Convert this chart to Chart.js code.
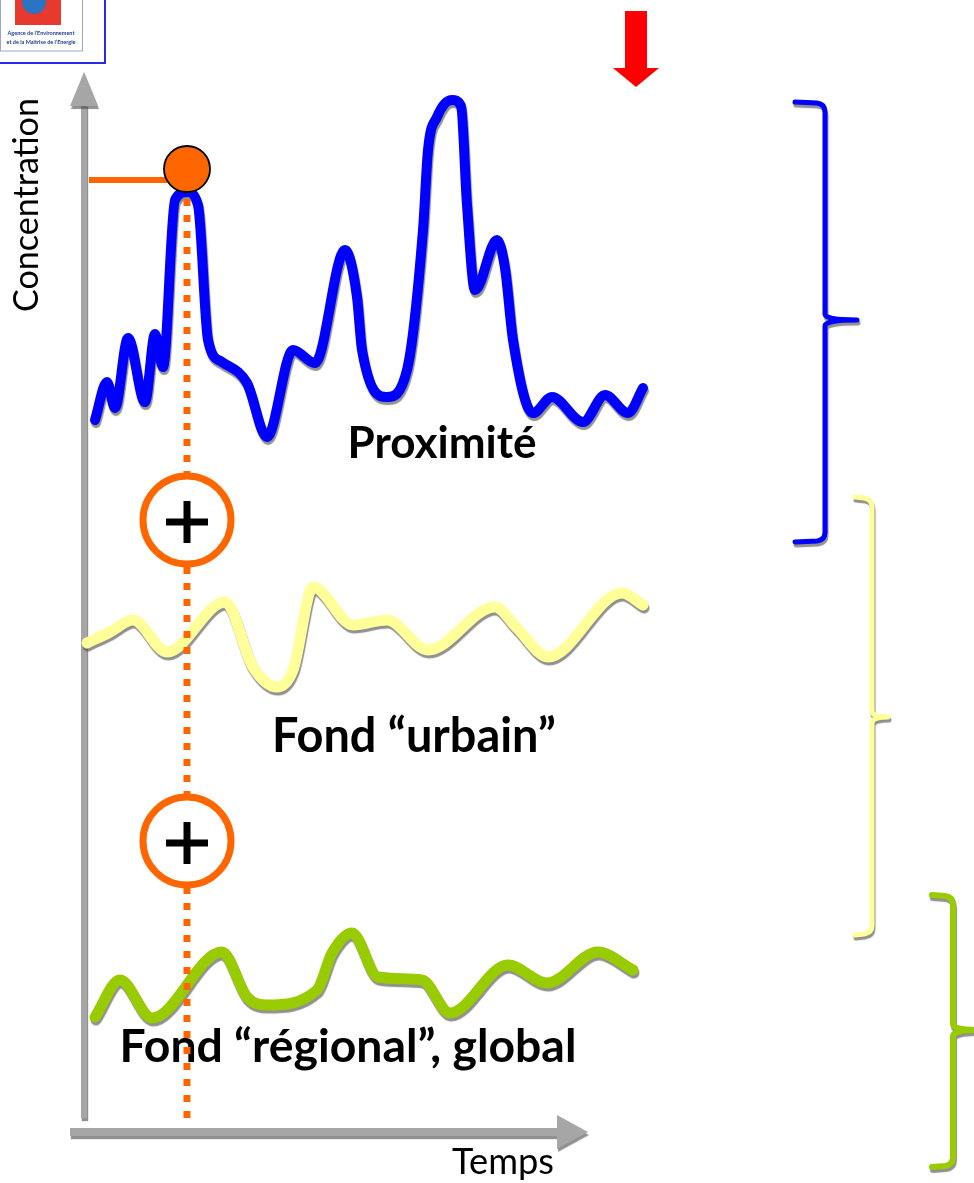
<!DOCTYPE html>
<html lang="fr">
<head>
<meta charset="utf-8">
<title>Concentration / Temps</title>
<script src="https://cdn.jsdelivr.net/npm/chart.js@4.4.1/dist/chart.umd.min.js"></script>
<style>
  html, body { margin: 0; padding: 0; background: #fff; }
  #wrap { position: relative; width: 974px; height: 1183px; }
</style>
</head>
<body>
<div id="wrap"><canvas id="chart"></canvas></div>
<script>
// time (0 = origin of the axes) and concentration of each component
const proxTime = [11, 23, 31, 44, 61, 71, 79, 91, 103, 114, 124, 138, 163, 183, 209, 231, 261, 273, 278, 303, 323, 339, 344, 353, 368, 377, 383, 391, 413, 421, 429, 449, 468, 499, 521, 544, 559];
const proxConc = [712, 750, 724, 794, 730, 798, 765, 932, 940, 927, 792, 770, 749, 695, 782, 769, 882, 835, 782, 735, 762, 902, 982, 1015, 1032, 1026, 927, 842, 892, 864, 792, 719, 735, 710, 737, 719, 744];

const urbTime = [3, 26, 49, 83, 141, 169, 193, 209, 229, 269, 303, 344, 411, 433, 464, 538, 559];
const urbConc = [489, 500, 512, 480, 530, 465, 445, 462, 545, 507, 512, 482, 525, 504, 475, 539, 527];

const regTime = [11, 36, 68, 138, 163, 183, 233, 248, 268, 294, 338, 366, 424, 463, 514, 549];
const regConc = [115, 152, 114, 180, 135, 127, 142, 179, 199, 155, 152, 119, 167, 149, 180, 162];

const readTime = 103; // instant where the three contributions are summed
const seriesLabels = ["Proximité", "Fond “urbain”", "Fond “régional”, global"];
const axisLabels = ["Temps", "Concentration"];

const FAMILY = "Lato, 'Open Sans', sans-serif";
const ORANGE = "#ff6600";

function pts(t, c) {
  return t.map((v, i) => ({ x: v, y: c[i] }));
}

function setShadow(ctx) {
  ctx.shadowColor = "rgba(70,70,70,0.6)";
  ctx.shadowOffsetX = 1;
  ctx.shadowOffsetY = 3;
  ctx.shadowBlur = 1;
}

// font size giving the wanted text width
function fitSize(ctx, text, weight, width) {
  ctx.font = `${weight} 100px ${FAMILY}`;
  return 100 * width / ctx.measureText(text).width;
}

function label(ctx, text, cx, base, width, weight) {
  const size = fitSize(ctx, text, weight, width);
  ctx.font = `${weight} ${size}px ${FAMILY}`;
  ctx.fillStyle = "#000";
  ctx.textAlign = "center";
  ctx.textBaseline = "alphabetic";
  ctx.fillText(text, cx, base);
}

function brace(ctx, b) {
  ctx.save();
  setShadow(ctx);
  ctx.strokeStyle = b.color;
  ctx.lineWidth = b.w;
  ctx.lineCap = "round";
  ctx.lineJoin = "round";
  ctx.beginPath();
  ctx.moveTo(b.xl, b.yt);
  ctx.lineTo(b.xv - 8, b.yt + 1);
  ctx.quadraticCurveTo(b.xv, b.yt + 2, b.xv, b.yt + 10);
  ctx.lineTo(b.xv, b.ym - 6);
  ctx.quadraticCurveTo(b.xv, b.ym, b.xt, b.ym);
  ctx.quadraticCurveTo(b.xv, b.ym, b.xv, b.ym + 6);
  ctx.lineTo(b.xv, b.yb - 10);
  ctx.quadraticCurveTo(b.xv, b.yb - 2, b.xv - 8, b.yb - 1);
  ctx.lineTo(b.xl, b.yb);
  ctx.stroke();
  ctx.restore();
}

function plusCircle(ctx, cx, cy) {
  ctx.save();
  ctx.beginPath();
  ctx.arc(cx, cy, 44, 0, Math.PI * 2);
  ctx.fillStyle = "#fff";
  ctx.fill();
  ctx.lineWidth = 7;
  ctx.strokeStyle = ORANGE;
  ctx.stroke();
  ctx.fillStyle = "#000";
  ctx.fillRect(cx - 21, cy + 2 - 3.5, 42, 7);
  ctx.fillRect(cx - 3.5, cy + 2 - 21, 7, 42);
  ctx.restore();
}

function logo(ctx) {
  ctx.save();
  ctx.strokeStyle = "#2a2ae6";
  ctx.lineWidth = 2;
  ctx.strokeRect(-2, -2, 107, 65);
  ctx.strokeStyle = "#9aa6cc";
  ctx.lineWidth = 1;
  ctx.strokeRect(0.5, -2, 82, 53);
  ctx.fillStyle = "#e8392e";
  ctx.fillRect(15, 0, 46, 25);
  ctx.fillStyle = "#2d73c4";
  ctx.beginPath();
  ctx.arc(34, 2, 12, 0, Math.PI * 2);
  ctx.fill();
  ctx.fillStyle = "#24408f";
  ctx.font = `bold 5.5px ${FAMILY}`;
  ctx.textAlign = "center";
  ctx.fillText("Agence de l’Environnement", 41, 35);
  ctx.fillText("et de la Maîtrise de l’Energie", 41, 44);
  ctx.restore();
}

const shadowPlugin = {
  id: "curveShadow",
  beforeDatasetDraw(chart) {
    chart.ctx.save();
    setShadow(chart.ctx);
  },
  afterDatasetDraw(chart) {
    chart.ctx.restore();
  }
};

const sketchPlugin = {
  id: "sketch",
  beforeDatasetsDraw(chart) {
    const { ctx, scales: { x, y } } = chart;
    const x0 = x.getPixelForValue(0);
    const y0 = y.getPixelForValue(0);
    ctx.save();
    setShadow(ctx);
    ctx.fillStyle = "#a6a6a6";
    // concentration axis
    ctx.fillRect(x0 - 3, 104, 6, y0 - 14 - 104);
    ctx.beginPath();
    ctx.moveTo(x0 - 14, 106);
    ctx.lineTo(x0, 72);
    ctx.lineTo(x0 + 14, 106);
    ctx.closePath();
    ctx.fill();
    // time axis
    ctx.fillRect(x0 - 14, y0 - 4, 560 - x0 + 14, 8);
    ctx.beginPath();
    ctx.moveTo(557, y0 - 17);
    ctx.lineTo(588, y0);
    ctx.lineTo(557, y0 + 17);
    ctx.closePath();
    ctx.fill();
    ctx.restore();
  },
  afterDatasetsDraw(chart) {
    const { ctx, scales: { x, y } } = chart;
    const xr = x.getPixelForValue(readTime);
    const peak = proxConc[proxTime.indexOf(readTime)];
    const yp = y.getPixelForValue(peak);
    const y0 = y.getPixelForValue(0);

    ctx.save();
    label(ctx, seriesLabels[0], 442, 458, 189, "bold");
    label(ctx, seriesLabels[1], 414, 752, 284, "bold");
    label(ctx, seriesLabels[2], 348, 1062, 457, "bold");
    label(ctx, axisLabels[0], 503, 1174, 102, "normal");
    ctx.save();
    ctx.translate(38, 205);
    ctx.rotate(-Math.PI / 2);
    label(ctx, axisLabels[1], 0, 0, 214, "normal");
    ctx.restore();

    // dotted reading line
    ctx.strokeStyle = ORANGE;
    ctx.lineWidth = 7;
    ctx.setLineDash([7, 9]);
    ctx.beginPath();
    ctx.moveTo(xr, yp + 7);
    ctx.lineTo(xr, y0 - 14);
    ctx.stroke();
    ctx.setLineDash([]);

    plusCircle(ctx, xr, 520);
    plusCircle(ctx, xr, 841);

    // read value
    ctx.lineWidth = 6;
    ctx.beginPath();
    ctx.moveTo(x.getPixelForValue(0) + 5, yp - 12);
    ctx.lineTo(xr - 20, yp - 12);
    ctx.stroke();
    ctx.beginPath();
    ctx.arc(xr, yp - 23, 23, 0, Math.PI * 2);
    ctx.fillStyle = ORANGE;
    ctx.fill();
    ctx.lineWidth = 1.8;
    ctx.strokeStyle = "#000";
    ctx.stroke();

    brace(ctx, { xl: 795, xv: 825, xt: 857, yt: 102, ym: 320, yb: 542, color: "#0000ff", w: 5 });
    brace(ctx, { xl: 855, xv: 872, xt: 888, yt: 497, ym: 717, yb: 935, color: "#ffff99", w: 5 });
    brace(ctx, { xl: 932, xv: 953, xt: 978, yt: 895, ym: 1030, yb: 1167, color: "#99cc00", w: 6 });

    // red arrow
    ctx.fillStyle = "#ff0000";
    ctx.fillRect(625, 11, 22, 58);
    ctx.beginPath();
    ctx.moveTo(613, 68);
    ctx.lineTo(659, 68);
    ctx.lineTo(636, 87);
    ctx.closePath();
    ctx.fill();

    logo(ctx);
    ctx.restore();
  }
};

new Chart(document.getElementById("chart"), {
  type: "line",
  data: {
    datasets: [
      { label: seriesLabels[0], data: pts(proxTime, proxConc), borderColor: "#0000ff", borderWidth: 10 },
      { label: seriesLabels[1], data: pts(urbTime, urbConc), borderColor: "#ffff99", borderWidth: 11 },
      { label: seriesLabels[2], data: pts(regTime, regConc), borderColor: "#99cc00", borderWidth: 11 }
    ]
  },
  options: {
    responsive: true,
    maintainAspectRatio: false,
    animation: false,
    layout: { padding: 0 },
    elements: {
      point: { radius: 0 },
      line: { cubicInterpolationMode: "monotone", borderCapStyle: "round", borderJoinStyle: "round", fill: false }
    },
    scales: {
      x: { type: "linear", min: -84, max: 890, display: false },
      y: { type: "linear", min: -51, max: 1132, display: false }
    },
    plugins: { legend: { display: false }, tooltip: { enabled: false } }
  },
  plugins: [shadowPlugin, sketchPlugin]
});
</script>
</body>
</html>
